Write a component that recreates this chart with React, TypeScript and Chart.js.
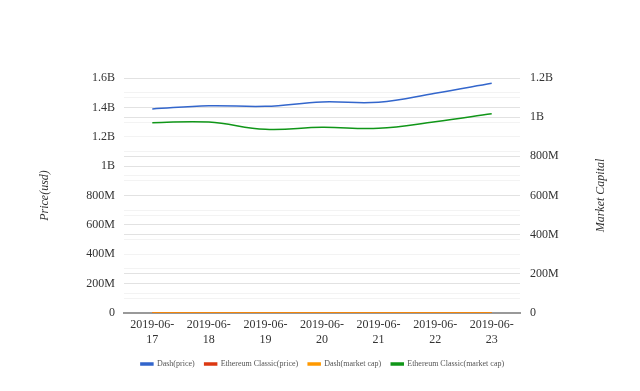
import React, { useEffect, useRef } from "react";
import { Chart, registerables } from "chart.js";

Chart.register(...registerables);

const categories = [
  ["2019-06-", "17"],
  ["2019-06-", "18"],
  ["2019-06-", "19"],
  ["2019-06-", "20"],
  ["2019-06-", "21"],
  ["2019-06-", "22"],
  ["2019-06-", "23"],
];

const dashPrice = [1.389e9, 1.411e9, 1.407e9, 1.437e9, 1.435e9, 1.496e9, 1.564e9];
const etcPrice = [0, 0, 0, 0, 0, 0, 0];
const dashMarketCap = [0, 0, 0, 0, 0, 0, 0];
const etcMarketCap = [0.972e9, 0.975e9, 0.938e9, 0.948e9, 0.943e9, 0.977e9, 1.018e9];

const leftMax = 1.6e9;
const rightMax = 1.2e9;
const tickStep = 1e8;
const rightTitle = "Market Capital";

function fmt(v: number): string {
  if (v === 0) return "0";
  if (v >= 1e9) return +(v / 1e9).toFixed(2) + "B";
  return +(v / 1e6).toFixed(0) + "M";
}

function majorLabel(value: number): string {
  const k = Math.round(value / tickStep);
  return k % 2 === 0 ? fmt(k * tickStep) : "";
}

function gridColor(ctx: any): string {
  const v = ctx.tick ? ctx.tick.value : 0;
  return Math.round(v / tickStep) % 2 === 0 ? "#e2e2e2" : "#f3f3f3";
}

const serif = "'Liberation Serif', 'Times New Roman', serif";

const rightTitlePlugin = {
  id: "rightTitle",
  afterDraw(chart: any) {
    const s = chart.scales.y1;
    if (!s) return;
    const ctx = chart.ctx;
    ctx.save();
    ctx.translate(s.right - 10.6, (s.top + s.bottom) / 2);
    ctx.rotate(-Math.PI / 2);
    ctx.font = "italic 12px " + serif;
    ctx.fillStyle = "#333";
    ctx.textAlign = "center";
    ctx.textBaseline = "middle";
    ctx.fillText(rightTitle, 0, 0);
    ctx.restore();
  },
};

export default function App() {
  const ref = useRef<HTMLCanvasElement | null>(null);

  useEffect(() => {
    if (!ref.current) return;
    const chart = new Chart(ref.current, {
      type: "line",
      data: {
        labels: categories as any,
        datasets: [
          {
            label: "Dash(price)",
            data: dashPrice,
            borderColor: "#3366cc",
            backgroundColor: "#3366cc",
            yAxisID: "y",
            order: 1,
          },
          {
            label: "Ethereum Classic(price)",
            data: etcPrice,
            borderColor: "#dc3912",
            backgroundColor: "#dc3912",
            yAxisID: "y",
            order: 1,
          },
          {
            label: "Dash(market cap)",
            data: dashMarketCap,
            borderColor: "#ff9900",
            backgroundColor: "#ff9900",
            yAxisID: "y1",
            order: -1,
          },
          {
            label: "Ethereum Classic(market cap)",
            data: etcMarketCap,
            borderColor: "#109618",
            backgroundColor: "#109618",
            yAxisID: "y1",
            order: 1,
          },
        ],
      },
      options: {
        responsive: false,
        animation: false,
        font: { family: serif },
        elements: {
          point: { radius: 0, hoverRadius: 0 },
          line: { borderWidth: 1.5, tension: 0.4, fill: false },
        },
        layout: { padding: { top: 78, left: 34, right: 29, bottom: 13 } },
        plugins: {
          legend: {
            position: "bottom",
            labels: {
              font: { family: serif, size: 8 },
              color: "#555",
              boxWidth: 12,
              boxHeight: 2,
              padding: 10,
              sort: (a: any, b: any) => a.datasetIndex - b.datasetIndex,
            },
          },
          tooltip: { enabled: false },
        },
        scales: {
          x: {
            offset: true,
            grid: { display: false, drawTicks: false },
            border: { display: true, color: "#999", width: 2 },
            ticks: {
              maxRotation: 0,
              autoSkip: false,
              padding: 5,
              color: "#333",
              font: { family: serif, size: 12 },
            },
            afterFit: (s: any) => {
              s.height = 37;
            },
          },
          y: {
            position: "left",
            min: 0,
            max: leftMax,
            grid: { color: gridColor, drawTicks: false },
            border: { display: false },
            ticks: {
              stepSize: tickStep,
              autoSkip: false,
              padding: 9,
              color: "#333",
              font: { family: serif, size: 12 },
              callback: (v: any) => majorLabel(Number(v)),
            },
            title: {
              display: true,
              text: "Price(usd)",
              color: "#333",
              padding: { top: 4, bottom: 4 },
              font: { family: serif, size: 12, style: "italic" },
            },
            afterFit: (s: any) => {
              s.width = 90;
            },
          },
          y1: {
            position: "right",
            min: 0,
            max: rightMax,
            grid: { color: gridColor, drawTicks: false },
            border: { display: false },
            ticks: {
              stepSize: tickStep,
              autoSkip: false,
              padding: 10,
              color: "#333",
              font: { family: serif, size: 12 },
              callback: (v: any) => majorLabel(Number(v)),
            },
            title: { display: false },
            afterFit: (s: any) => {
              s.width = 91;
            },
          },
        },
      },
      plugins: [rightTitlePlugin],
    });
    return () => chart.destroy();
  }, []);

  return (
    <div style={{ position: "fixed", left: 0, top: 0, width: 640, height: 391, background: "#fff" }}>
      <canvas ref={ref} width={640} height={391} />
    </div>
  );
}
